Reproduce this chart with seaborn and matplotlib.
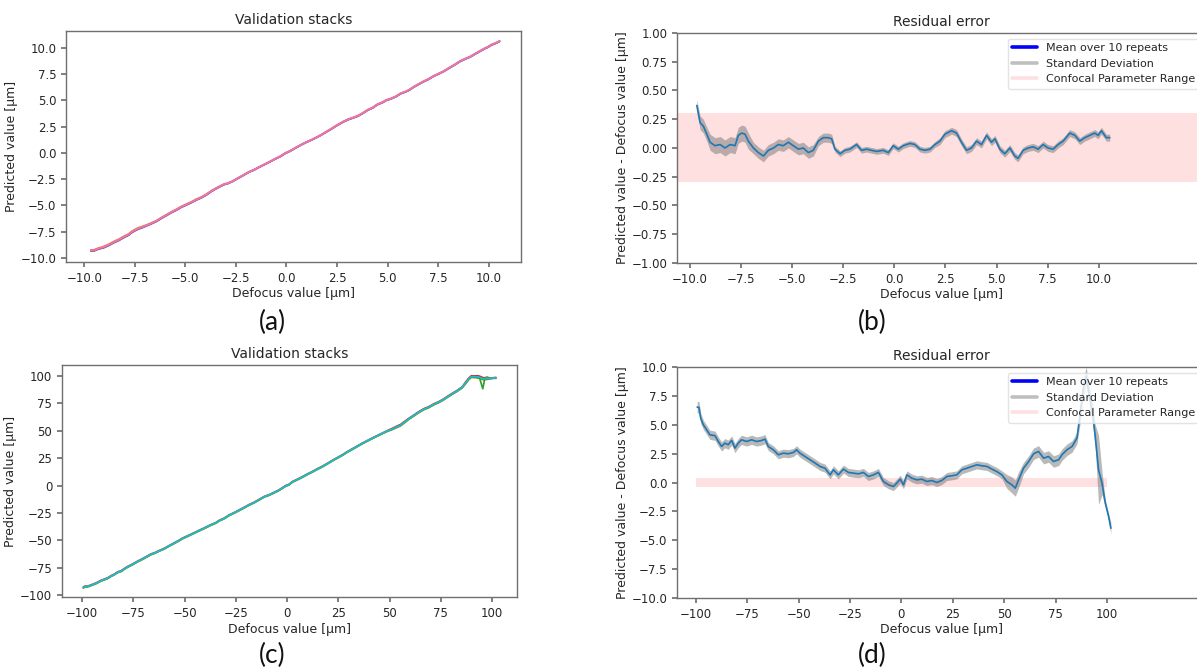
import matplotlib
matplotlib.use("Agg")
import matplotlib.pyplot as plt
from matplotlib.lines import Line2D
import seaborn as sns
import numpy as np

# Residual error, small range (b): defocus [um], mean residual, std
defocus_b = [-9.67, -9.51, -9.35, -9.18, -9.02, -8.78, -8.53, -8.29, -8.04, -7.80,
             -7.64, -7.47, -7.31, -7.15, -6.90, -6.66, -6.41, -6.17, -5.92, -5.68,
             -5.44, -5.19, -4.95, -4.70, -4.46, -4.21, -3.97, -3.72, -3.48, -3.24,
             -3.07, -2.91, -2.66, -2.42, -2.18, -1.85, -1.61, -1.36, -1.12, -0.87,
             -0.55, -0.30, -0.06, 0.19, 0.43, 0.76, 1.00, 1.25, 1.49, 1.74,
             1.98, 2.23, 2.47, 2.80, 3.04, 3.28, 3.53, 3.77, 4.02, 4.26,
             4.51, 4.75, 4.92, 5.16, 5.40, 5.65, 5.89, 6.05, 6.30, 6.54,
             6.79, 7.03, 7.28, 7.52, 7.77, 8.01, 8.26, 8.58, 8.83, 9.07,
             9.32, 9.56, 9.80, 9.97, 10.13, 10.37, 10.54]
resid_b = [0.37, 0.22, 0.19, 0.12, 0.05, 0.02, 0.03, 0.00, 0.03, 0.02,
           0.11, 0.13, 0.12, 0.06, 0.00, -0.04, -0.07, -0.02, 0.00, 0.03,
           0.02, 0.05, 0.02, -0.01, 0.00, -0.04, -0.02, 0.06, 0.09, 0.09,
           0.08, -0.01, -0.05, -0.02, -0.01, 0.03, -0.02, -0.01, -0.02, -0.03,
           -0.02, -0.04, 0.02, -0.01, 0.02, 0.04, 0.03, -0.01, -0.02, -0.01,
           0.03, 0.06, 0.12, 0.15, 0.13, 0.05, -0.02, 0.00, 0.06, 0.03,
           0.11, 0.05, 0.08, -0.01, -0.05, 0.00, -0.07, -0.09, -0.02, 0.00,
           0.01, -0.01, 0.03, 0.00, -0.01, 0.03, 0.06, 0.13, 0.11, 0.06,
           0.09, 0.11, 0.13, 0.11, 0.15, 0.09, 0.09]
std_b = [0.05, 0.06, 0.06, 0.06, 0.07, 0.07, 0.07, 0.07, 0.07, 0.07,
         0.07, 0.07, 0.07, 0.07, 0.05, 0.05, 0.05, 0.05, 0.05, 0.05,
         0.05, 0.05, 0.05, 0.05, 0.05, 0.05, 0.05, 0.04, 0.04, 0.04,
         0.04, 0.025, 0.025, 0.025, 0.025, 0.025, 0.025, 0.025, 0.025, 0.025,
         0.025, 0.025, 0.025, 0.025, 0.025, 0.025, 0.025, 0.025, 0.025, 0.025,
         0.025, 0.03, 0.03, 0.03, 0.03, 0.03, 0.03, 0.03, 0.03, 0.03,
         0.03, 0.03, 0.03, 0.03, 0.03, 0.03, 0.03, 0.03, 0.03, 0.03,
         0.03, 0.03, 0.03, 0.03, 0.03, 0.03, 0.03, 0.03, 0.03, 0.03,
         0.03, 0.03, 0.03, 0.03, 0.03, 0.03, 0.03]

# Residual error, large range (d)
defocus_d = [-99.4, -98.5, -97.7, -96.4, -94.8, -93.2, -90.7, -89.1, -87.5, -85.9,
             -84.3, -82.6, -81.0, -79.4, -77.8, -75.3, -72.9, -70.5, -68.0, -66.4,
             -64.8, -62.3, -59.9, -57.5, -55.0, -52.6, -51.0, -49.4, -46.9, -44.5,
             -42.0, -39.6, -37.2, -34.7, -33.1, -30.7, -28.2, -25.8, -23.4, -20.9,
             -18.5, -16.1, -13.6, -11.2, -8.8, -6.3, -3.9, -2.3, -0.6, 1.0,
             2.6, 5.0, 7.5, 9.9, 12.3, 14.8, 17.2, 19.6, 22.1, 24.5,
             26.9, 29.4, 31.8, 34.3, 36.7, 39.1, 41.6, 44.0, 46.4, 48.9,
             51.3, 53.7, 55.4, 57.0, 59.4, 61.9, 64.3, 66.7, 69.2, 71.6,
             74.0, 76.5, 78.1, 80.5, 83.0, 85.4, 87.0, 88.6, 89.9, 91.2,
             93.2, 94.3, 95.9, 97.6, 99.2, 100.8, 101.9]
resid_d = [6.53, 6.50, 5.58, 5.00, 4.57, 4.13, 4.05, 3.55, 3.12, 3.41,
           3.27, 3.64, 2.98, 3.41, 3.70, 3.55, 3.70, 3.55, 3.64, 3.76,
           3.12, 2.83, 2.40, 2.54, 2.49, 2.60, 2.83, 2.54, 2.25, 1.97,
           1.68, 1.39, 1.24, 0.66, 1.10, 0.66, 1.16, 0.87, 0.81, 0.75,
           0.87, 0.52, 0.66, 0.87, 0.09, -0.20, -0.35, -0.06, 0.29, -0.20,
           0.66, 0.38, 0.23, 0.29, 0.09, 0.17, 0.00, 0.17, 0.52, 0.58,
           0.66, 1.10, 1.24, 1.39, 1.53, 1.45, 1.39, 1.16, 0.95, 0.66,
           0.09, -0.20, -0.49, 0.23, 1.24, 1.82, 2.49, 2.69, 2.11, 2.25,
           1.82, 1.97, 2.40, 2.83, 3.12, 3.84, 6.01, 8.32, 9.19, 7.75,
           5.72, 3.99, 1.10, -0.06, -1.79, -2.95, -3.96]
std_d = [0.50, 0.50, 0.45, 0.40, 0.40, 0.40, 0.40, 0.40, 0.40, 0.40,
         0.40, 0.40, 0.40, 0.40, 0.40, 0.40, 0.40, 0.40, 0.40, 0.40,
         0.35, 0.35, 0.35, 0.35, 0.35, 0.35, 0.35, 0.35, 0.35, 0.35,
         0.35, 0.35, 0.35, 0.35, 0.35, 0.35, 0.35, 0.35, 0.35, 0.35,
         0.35, 0.35, 0.35, 0.35, 0.35, 0.35, 0.35, 0.35, 0.35, 0.35,
         0.35, 0.35, 0.35, 0.35, 0.35, 0.35, 0.35, 0.35, 0.35, 0.35,
         0.35, 0.35, 0.35, 0.35, 0.35, 0.35, 0.35, 0.35, 0.35, 0.35,
         0.60, 0.70, 0.70, 0.70, 0.50, 0.50, 0.50, 0.50, 0.50, 0.50,
         0.50, 0.50, 0.50, 0.50, 0.50, 0.50, 0.80, 0.80, 0.80, 0.80,
         1.00, 1.00, 3.00, 1.00, 0.30, 0.30, 0.50]

# one repeat in (c) dips near the upper end
dip_x = [92.5, 94.0, 95.5, 96.5, 98.0]
dip_y = [98.5, 97.5, 88.0, 97.5, 98.5]

confocal_b = 0.3
confocal_d = 0.35
confocal_d_range = [-100, 100]

panel_letters = ["(a)", "(b)", "(c)", "(d)"]

sns.set_theme(style="ticks", rc={
    "axes.edgecolor": "#707070",
    "axes.linewidth": 1.0,
    "xtick.color": "#707070",
    "ytick.color": "#707070",
    "xtick.labelcolor": "#262626",
    "ytick.labelcolor": "#262626",
    "xtick.labelsize": 8.5,
    "ytick.labelsize": 8.5,
    "axes.labelsize": 9,
    "axes.titlesize": 10,
    "axes.labelcolor": "#262626",
    "xtick.major.size": 3.5,
    "ytick.major.size": 3.5,
    "axes.labelpad": 2,
})
plt.rcParams["font.family"] = ["DejaVu Sans"]

fig = plt.figure(figsize=(11.97, 6.67), dpi=100)
W, H = 1197, 667


def add_axes(left, top, right, bottom):
    return fig.add_axes([left / W, 1 - bottom / H, (right - left) / W, (bottom - top) / H])


ax_a = add_axes(66, 31, 521, 262)
ax_b = add_axes(677, 33, 1205, 263)
ax_c = add_axes(62, 365, 517, 597)
ax_d = add_axes(677, 367, 1205, 598)

tab = sns.color_palette("tab10")

# ---- (a) validation stacks, small range
xb = np.array(defocus_b)
mb = np.array(resid_b)
sb = np.array(std_b)
pred_b = xb + mb
sns.lineplot(x=xb, y=pred_b - sb, ax=ax_a, color=tab[0], lw=1.2)
sns.lineplot(x=xb, y=pred_b + sb, ax=ax_a, color=tab[1], lw=1.2)
sns.lineplot(x=xb, y=pred_b - 0.5 * sb, ax=ax_a, color=tab[3], lw=1.2)
sns.lineplot(x=xb, y=pred_b, ax=ax_a, color=tab[6], lw=1.4)
ax_a.set_xlim(-10.9, 11.6)
ax_a.set_ylim(-10.4, 11.6)
ax_a.set_xticks(np.arange(-10, 10.01, 2.5))
ax_a.set_yticks(np.arange(-10, 10.01, 2.5))
ax_a.set_title("Validation stacks", pad=5)
ax_a.set_xlabel("Defocus value [µm]")
ax_a.set_ylabel("Predicted value [µm]")

# ---- (b) residual error, small range
ax_b.axhspan(-confocal_b, confocal_b, color="red", alpha=0.12, lw=0)
ax_b.fill_between(xb, mb - sb, mb + sb, color="gray", alpha=0.55, lw=0)
sns.lineplot(x=xb, y=mb, ax=ax_b, color=tab[0], lw=1.2)
ax_b.set_xlim(-10.64, 15.2)
ax_b.set_ylim(-1, 1)
ax_b.set_xticks(np.arange(-10, 10.01, 2.5))
ax_b.set_yticks(np.arange(-1, 1.01, 0.25))
ax_b.set_title("Residual error", pad=5)
ax_b.set_xlabel("Defocus value [µm]")
ax_b.set_ylabel("Predicted value - Defocus value [µm]")

# ---- (c) validation stacks, large range
xd = np.array(defocus_d)
md = np.array(resid_d)
sd = np.array(std_d)
pred_d = xd + md
sd_c = np.minimum(sd, 1.0)
sns.lineplot(x=xd, y=pred_d + sd_c, ax=ax_c, color=tab[3], lw=1.2)
sns.lineplot(x=xd, y=pred_d - sd_c, ax=ax_c, color=tab[1], lw=1.2)
sns.lineplot(x=dip_x, y=dip_y, ax=ax_c, color=tab[2], lw=1.2)
sns.lineplot(x=xd, y=pred_d - 0.5 * sd_c, ax=ax_c, color=tab[2], lw=1.2)
sns.lineplot(x=xd, y=pred_d, ax=ax_c, color=tab[9], lw=1.3)
ax_c.set_xlim(-109.8, 112.2)
ax_c.set_ylim(-101.5, 109.7)
ax_c.set_xticks(np.arange(-100, 101, 25))
ax_c.set_yticks(np.arange(-100, 101, 25))
ax_c.set_title("Validation stacks", pad=5)
ax_c.set_xlabel("Defocus value [µm]")
ax_c.set_ylabel("Predicted value [µm]")

# ---- (d) residual error, large range
ax_d.fill_between(confocal_d_range, [-confocal_d] * 2, [confocal_d] * 2,
                  color="red", alpha=0.12, lw=0)
ax_d.fill_between(xd, md - sd, md + sd, color="gray", alpha=0.55, lw=0)
sns.lineplot(x=xd, y=md, ax=ax_d, color=tab[0], lw=1.2)
ax_d.set_xlim(-109.2, 147.7)
ax_d.set_ylim(-10, 10)
ax_d.set_xticks(np.arange(-100, 101, 25))
ax_d.set_yticks(np.arange(-10, 10.01, 2.5))
ax_d.set_title("Residual error", pad=5)
ax_d.set_xlabel("Defocus value [µm]")
ax_d.set_ylabel("Predicted value - Defocus value [µm]")

# legends
handles = [Line2D([0], [0], color="blue", lw=2.6),
           Line2D([0], [0], color="gray", lw=2.6, alpha=0.5),
           Line2D([0], [0], color="red", lw=2.6, alpha=0.12)]
labels = ["Mean over 10 repeats", "Standard Deviation", "Confocal Parameter Range"]
for ax in (ax_b, ax_d):
    ax.legend(handles, labels, loc="upper right", fontsize=8, handlelength=2.2,
              frameon=True, framealpha=0.8, edgecolor="#dddddd", fancybox=True,
              borderaxespad=0.5)

for ax in (ax_a, ax_b, ax_c, ax_d):
    for s in ax.spines.values():
        s.set_visible(True)

# panel letters
letter_pos = [(272, 322), (872, 322), (272, 655), (872, 655)]
for letter, (px, py) in zip(panel_letters, letter_pos):
    fig.text(px / W, 1 - py / H, letter, ha="center", va="center",
             fontsize=19, family=["Lato", "DejaVu Sans"], color="#111111")

fig.savefig("out.png", dpi=100)
